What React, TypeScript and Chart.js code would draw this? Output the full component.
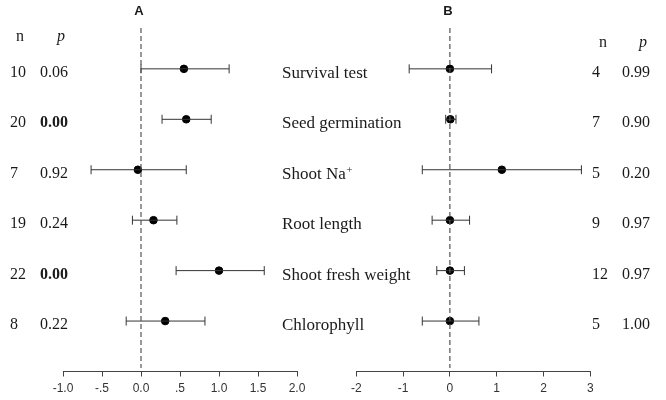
import React, { useEffect, useRef } from 'react';
import { Chart, registerables } from 'chart.js';

Chart.register(...registerables);

// ---- data ----
const categories = ['Survival test', 'Seed germination', 'Shoot Na⁺', 'Root length', 'Shoot fresh weight', 'Chlorophyll'];

const aN = [10, 20, 7, 19, 22, 8];
const aP = [0.06, 0.0, 0.92, 0.24, 0.0, 0.22];
const aEst = [0.55, 0.58, -0.04, 0.16, 1.0, 0.31];
const aLo = [0.0, 0.27, -0.64, -0.11, 0.45, -0.19];
const aHi = [1.13, 0.9, 0.58, 0.46, 1.58, 0.82];
const aTickLabels = ['-1.0', '-.5', '0.0', '.5', '1.0', '1.5', '2.0'];

const bN = [4, 7, 5, 9, 12, 5];
const bP = [0.99, 0.9, 0.2, 0.97, 0.97, 1.0];
const bEst = [0.0, 0.01, 1.11, 0.0, 0.0, 0.0];
const bLo = [-0.87, -0.09, -0.59, -0.38, -0.28, -0.59];
const bHi = [0.89, 0.13, 2.81, 0.42, 0.31, 0.62];
const bTickLabels = ['-2', '-1', '0', '1', '2', '3'];

const Y_MIN = 0.19;
const Y_MAX = 7;
const REF_END = 6.93;

const SERIF = '"Liberation Serif", "Times New Roman", serif';
const SANS = '"Liberation Sans", Arial, sans-serif';
const TEXT = '#1a1a1a';

function buildDatasets(est: number[], lo: number[], hi: number[]) {
  const ds: any[] = [];
  ds.push({
    data: [{ x: 0, y: Y_MIN }, { x: 0, y: REF_END }],
    showLine: true,
    borderColor: '#555',
    borderWidth: 1.2,
    borderDash: [5, 3],
    pointRadius: 0,
    clip: false,
  });
  est.forEach((_, i) => {
    ds.push({
      data: [{ x: lo[i], y: i + 1 }, { x: hi[i], y: i + 1 }],
      showLine: true,
      borderColor: '#333',
      borderWidth: 1,
      pointStyle: 'line',
      rotation: 90,
      pointRadius: 4.5,
      pointBorderColor: '#333',
      pointBorderWidth: 1,
      clip: false,
    });
  });
  ds.push({
    data: est.map((e, i) => ({ x: e, y: i + 1 })),
    showLine: false,
    pointStyle: 'circle',
    pointRadius: 3.8,
    pointBackgroundColor: '#000',
    pointBorderColor: '#000',
    clip: false,
  });
  return ds;
}

function xScale(min: number, max: number, step: number, labels: string[]) {
  return {
    type: 'linear',
    min,
    max,
    ticks: {
      stepSize: step,
      autoSkip: false,
      maxRotation: 0,
      color: '#333',
      padding: 5,
      font: { family: SANS, size: 12 },
      callback: (v: number) => labels[Math.round((v - min) / step)],
    },
    grid: { display: true, drawOnChartArea: false, drawTicks: true, tickLength: 5, color: '#444' },
    border: { display: true, color: '#444', width: 1 },
    afterFit: (s: any) => {
      s.height = 28.5;
    },
  };
}

function drawCategory(ctx: CanvasRenderingContext2D, label: string, x: number, y: number) {
  ctx.font = `17px ${SERIF}`;
  if (label.endsWith('⁺')) {
    const base = label.slice(0, -1);
    ctx.fillText(base, x, y);
    const w = ctx.measureText(base).width;
    ctx.font = `11px ${SERIF}`;
    ctx.fillText('+', x + w + 0.5, y - 6);
  } else {
    ctx.fillText(label, x, y);
  }
}

const textA = {
  id: 'textA',
  afterDraw(chart: any) {
    const ctx = chart.ctx as CanvasRenderingContext2D;
    const ys = chart.scales.y;
    ctx.save();
    ctx.fillStyle = TEXT;
    ctx.textBaseline = 'alphabetic';
    ctx.textAlign = 'center';
    ctx.font = `bold 13px ${SANS}`;
    ctx.fillText('A', 139, 15);
    ctx.font = `16px ${SERIF}`;
    ctx.fillText('n', 20, 41);
    ctx.font = `italic 16px ${SERIF}`;
    ctx.fillText('p', 61, 41);
    ctx.textAlign = 'left';
    categories.forEach((c, i) => {
      const y = ys.getPixelForValue(i + 1);
      ctx.font = `16px ${SERIF}`;
      ctx.fillText(String(aN[i]), 10, y + 8);
      ctx.font = `${aP[i] < 0.05 ? 'bold ' : ''}16px ${SERIF}`;
      ctx.fillText(aP[i].toFixed(2), 40, y + 8);
      drawCategory(ctx, c, 282, y + 9);
    });
    ctx.restore();
  },
};

const textB = {
  id: 'textB',
  afterDraw(chart: any) {
    const ctx = chart.ctx as CanvasRenderingContext2D;
    const ys = chart.scales.y;
    ctx.save();
    ctx.fillStyle = TEXT;
    ctx.textBaseline = 'alphabetic';
    ctx.textAlign = 'center';
    ctx.font = `bold 13px ${SANS}`;
    ctx.fillText('B', 448, 15);
    ctx.font = `16px ${SERIF}`;
    ctx.fillText('n', 603, 47);
    ctx.font = `italic 16px ${SERIF}`;
    ctx.fillText('p', 643, 47);
    ctx.textAlign = 'left';
    bN.forEach((n, i) => {
      const y = ys.getPixelForValue(i + 1);
      ctx.font = `16px ${SERIF}`;
      ctx.fillText(String(n), 592, y + 8);
      ctx.font = `${bP[i] < 0.05 ? 'bold ' : ''}16px ${SERIF}`;
      ctx.fillText(bP[i].toFixed(2), 622, y + 8);
    });
    ctx.restore();
  },
};

function makeConfig(datasets: any[], x: any, padding: any, plugin: any) {
  return {
    type: 'scatter',
    data: { datasets },
    options: {
      responsive: false,
      animation: false,
      events: [],
      layout: { padding },
      plugins: { legend: { display: false }, tooltip: { enabled: false } },
      scales: {
        x,
        y: { type: 'linear', min: Y_MIN, max: Y_MAX, reverse: true, display: false },
      },
    },
    plugins: [plugin],
  } as any;
}

export default function App() {
  const refA = useRef<HTMLCanvasElement>(null);
  const refB = useRef<HTMLCanvasElement>(null);

  useEffect(() => {
    document.body.style.margin = '0';
    const chartA = new Chart(
      refA.current!,
      makeConfig(
        buildDatasets(aEst, aLo, aHi),
        xScale(-1, 2, 0.5, aTickLabels),
        { left: 63, right: 369, top: 28, bottom: 0 },
        textA
      )
    );
    const chartB = new Chart(
      refB.current!,
      makeConfig(
        buildDatasets(bEst, bLo, bHi),
        xScale(-2, 3, 1, bTickLabels),
        { left: 356.3, right: 75.7, top: 28, bottom: 0 },
        textB
      )
    );
    return () => {
      chartA.destroy();
      chartB.destroy();
    };
  }, []);

  return (
    <div style={{ position: 'fixed', left: 0, top: 0, width: 666, height: 400, background: '#fff' }}>
      <canvas ref={refA} width={666} height={400} style={{ position: 'absolute', left: 0, top: 0 }} />
      <canvas ref={refB} width={666} height={400} style={{ position: 'absolute', left: 0, top: 0 }} />
    </div>
  );
}
